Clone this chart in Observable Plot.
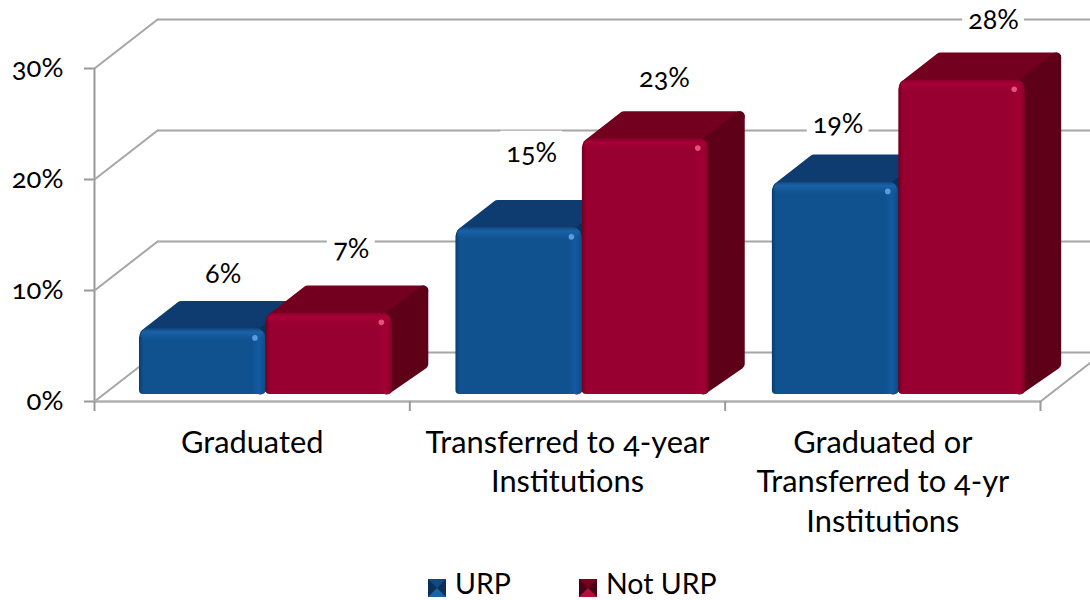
<!DOCTYPE html>
<html>
<head>
<meta charset="utf-8">
<script src="https://cdn.jsdelivr.net/npm/d3@7"></script>
<script src="https://cdn.jsdelivr.net/npm/@observablehq/plot@0.6"></script>
<style>
html,body{margin:0;padding:0;background:#fff;overflow:hidden;}
body{width:1090px;height:600px;font-family:Lato,sans-serif;font-feature-settings:"onum";}
svg{display:block;}
#legend{position:relative;height:28px;font-size:28.5px;line-height:34px;color:#000;}
#legend span{position:absolute;top:-6px;white-space:nowrap;}
#legend i{position:absolute;top:7px;width:0;height:0;border-style:solid;border-width:9.5px;}
</style>
</head>
<body>
<div id="chart"></div>
<div id="legend"></div>
<script>
const categories = ["Graduated", "Transferred to 4-year\nInstitutions", "Graduated or\nTransferred to 4-yr\nInstitutions"];
const urp = [5.9, 15, 19.1];
const notUrp = [7.3, 23, 28.3];
const yTicks = [0, 10, 20, 30];
const seriesNames = ["URP", "Not URP"];

// label placement relative to each bar, in scale units
const urpLabelShift = [[0.065, 2.4], [0.04, 4.2], [0.008, 2.7]];
const notUrpLabelShift = [[0.07, 3.3], [0.06, 3.0], [0.1, 2.9]];

// projection of the 3-D box, in scale units
const wallDx = 0.2, wallDy = 4.41;
const barDx = 0.114, barDy = 2.52;
const barStart = 0.1427, barStep = 1.0035, barW = 0.401, barBase = 0.63;
const inX = 0.016, inY = 0.45;

const colors = {
  URP: {front: "url(#frontB)", strip: "url(#stripB)", top: "#0e3c70", side: "#0a3058", spark: "#6aa6ee"},
  "Not URP": {front: "url(#frontR)", strip: "url(#stripR)", top: "#740020", side: "#5e0018", spark: "#f0608a"}
};

function barsOf(name, values, shifts) {
  return values.map((v, i) => {
    const x0 = i * barStep + barStart + (name === "URP" ? 0 : barW);
    return {name, v, x0, x1: x0 + barW, top: barBase + v, shift: shifts[i], text: Math.round(v) + "%"};
  });
}
const allBars = [barsOf("URP", urp, urpLabelShift), barsOf("Not URP", notUrp, notUrpLabelShift)];

// walls and floor
const wallMarks = [
  Plot.ruleX([0], {y1: 0, y2: 30, stroke: "#999", strokeWidth: 2}),
  Plot.ruleY(yTicks, {x1: wallDx, x2: 3.2, y: t => t + wallDy, stroke: "#a6a6a6", strokeWidth: 2}),
  ...yTicks.map(t => Plot.line([[0, t], [wallDx, t + wallDy]], {stroke: "#a6a6a6", strokeWidth: 2})),
  Plot.line([[3, 0], [3.2, wallDy]], {stroke: "#a6a6a6", strokeWidth: 2}),
  Plot.ruleY([0], {x1: 0, x2: 3, stroke: "#b0b0b0", strokeWidth: 2.5}),
  Plot.ruleX([0, 1, 2, 3], {y1: 0, y2: -0.9, stroke: "#999", strokeWidth: 2})
];

// white boxes behind value labels
function labelBoxes(bars) {
  return Plot.rect(bars, {
    x1: d => d.x0 + barW / 2 + d.shift[0] - (d.text.length > 2 ? 0.098 : 0.076),
    x2: d => d.x0 + barW / 2 + d.shift[0] + (d.text.length > 2 ? 0.098 : 0.076),
    y1: d => d.top + barDy + d.shift[1] - 2.0,
    y2: d => d.top + barDy + d.shift[1] + 2.0,
    fill: "white"
  });
}

function barMarks(bars) {
  const marks = [];
  for (const d of bars) {
    const c = colors[d.name];
    const r = 0.018;
    marks.push(Plot.line([
      [d.x0 + r, d.top - inY], [d.x1, d.top - inY],
      [d.x1 + barDx - inX, d.top + barDy - inY], [d.x0 + barDx + r, d.top + barDy - inY],
      [d.x0 + r, d.top - inY]
    ], {fill: c.top, stroke: c.top, strokeWidth: 10, strokeLinejoin: "round"}));
    marks.push(Plot.line([
      [d.x1 - r, d.top - inY], [d.x1 + barDx - inX, d.top + barDy - inY],
      [d.x1 + barDx - inX, barBase + barDy + inY / 2], [d.x1 - r, barBase + inY],
      [d.x1 - r, d.top - inY]
    ], {fill: c.side, stroke: c.side, strokeWidth: 10, strokeLinejoin: "round"}));
    marks.push(Plot.rect([d], {x1: "x0", x2: "x1", y1: barBase, y2: "top", fill: c.front, rx1y2: 9, rx2y2: 9, rx1y1: 4, rx2y1: 4}));
    marks.push(Plot.rect([d], {x1: d.x0 + 0.006, x2: d.x1 - 0.006, y1: d.top - 1.3, y2: d.top, fill: c.strip, rx: 7}));
    marks.push(Plot.dot([d], {x: d.x1 - 0.035, y: d.top - 0.8, r: 2.8, fill: c.spark, fillOpacity: 0.85}));
  }
  return marks;
}

const labelMarks = allBars.map(bars => Plot.text(bars, {
  x: d => d.x0 + barW / 2 + d.shift[0],
  y: d => d.top + barDy + d.shift[1],
  text: "text", fontSize: 27, fill: "#000"
}));

function gradients() {
  const defs = d3.create("svg:defs");
  const grad = (id, vertical, stops) => {
    const g = defs.append("linearGradient").attr("id", id)
      .attr("x1", 0).attr("y1", 0).attr("x2", vertical ? 0 : 1).attr("y2", vertical ? 1 : 0);
    stops.forEach(([o, col, op]) => g.append("stop").attr("offset", o).attr("stop-color", col).attr("stop-opacity", op ?? 1));
  };
  grad("frontB", false, [[0, "#0b3c6c"], [0.035, "#10528f"], [0.89, "#10528f"], [0.95, "#125aa2"], [0.99, "#0f4d88"]]);
  grad("frontR", false, [[0, "#6e0022"], [0.035, "#970030"], [0.88, "#970030"], [0.95, "#a20033"], [0.99, "#8c002c"]]);
  grad("stripB", true, [[0, "#0f4a82"], [0.25, "#1a62a8"], [1, "#10528f", 0]]);
  grad("stripR", true, [[0, "#8a002c"], [0.25, "#a80038"], [1, "#970030", 0]]);
  return defs.node();
}

const plot = Plot.plot({
  width: 1090, height: 572,
  marginLeft: 94, marginRight: 50, marginTop: 68, marginBottom: 171,
  style: {fontFamily: "Lato, sans-serif", fontFeatureSettings: '"onum"', background: "transparent"},
  x: {type: "linear", domain: [0, 3]},
  y: {type: "linear", domain: [0, 30]},
  marks: [
    gradients,
    Plot.axisY({ticks: yTicks, tickFormat: d => d + "%", tickSize: 10, tickPadding: 21, fontSize: 27.5, stroke: "#999", strokeWidth: 2, fill: "#000", label: null, textStroke: "none"}),
    Plot.axisX({ticks: [0.5, 1.5, 2.5], tickFormat: d => categories[Math.floor(d)], tickSize: 0, tickPadding: 24, fontSize: 30.8, lineHeight: 1.27, lineAnchor: "top", fill: "#000", label: null, textOverflow: null, lineWidth: Infinity}),
    ...wallMarks,
    ...allBars.map(labelBoxes),
    ...barMarks(allBars[0]),
    ...barMarks(allBars[1]),
    ...labelMarks
  ]
});
document.getElementById("chart").appendChild(plot);

// legend
const legend = document.getElementById("legend");
const legendSwatch = {URP: ["#1a62a8", "#0a3058", "#0e4a85", "#10528f"], "Not URP": ["#b0103c", "#4a0014", "#7a0022", "#970030"]};
const legendLeft = [428, 579];
seriesNames.forEach((n, k) => {
  const sw = document.createElement("i");
  const s = legendSwatch[n];
  sw.style.left = legendLeft[k] + "px";
  sw.style.borderColor = `${s[2]} ${s[1]} ${s[0]} ${s[1]}`;
  const t = document.createElement("span");
  t.textContent = n;
  t.style.left = (legendLeft[k] + 27) + "px";
  legend.append(sw, t);
});
</script>
</body>
</html>
